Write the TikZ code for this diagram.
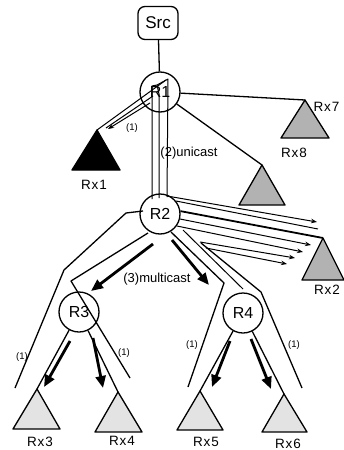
\documentclass[tikz,border=0pt]{standalone}
\usepackage{fontspec}
\setmainfont{Liberation Sans}
\usetikzlibrary{arrows.meta}
\begin{document}
\begin{tikzpicture}[x=1pt,y=-1pt,line width=1.3pt,line join=round,
  router/.style={circle,draw,minimum size=40pt,inner sep=0pt,font=\fontsize{16}{16}\selectfont},
  srcbox/.style={draw,rounded corners=7pt,minimum width=40pt,minimum height=33pt,inner sep=0pt,font=\fontsize{17}{17}\selectfont},
  rxlabel/.style={font=\fontsize{13.5}{13.5}\selectfont\addfontfeature{LetterSpace=6},inner sep=0pt},
  steplabel/.style={font=\fontsize{13}{13}\selectfont,inner sep=0pt},
  onelabel/.style={font=\fontsize{9.5}{9.5}\selectfont,inner sep=0pt},
  darktri/.style={draw,fill=gray!60},
  blacktri/.style={draw,fill=black},
  lighttri/.style={draw,fill=gray!22},
  bigarrow/.style={line width=2.8pt,-{Triangle[length=12pt,width=10pt]}},
  thinarrow/.style={line width=1pt,-{Stealth[length=6pt,width=4.5pt]}},
  thinline/.style={line width=1pt}]
\useasboundingbox (0,0) rectangle (343,450);

% nodes
\node[srcbox] (Src) at (158,23) {Src};
\node[router] (R1) at (160,92) {R1};
\node[router] (R2) at (160,214) {R2};
\node[router] (R3) at (79,312) {R3};
\node[router] (R4) at (243,313) {R4};

% receiver apexes
\coordinate (a1) at (97,130);
\coordinate (a7) at (305,100);
\coordinate (a8) at (262,165);
\coordinate (a2) at (323,238);
\coordinate (a3) at (37,389);
\coordinate (a4) at (118,392);
\coordinate (a5) at (200,391);
\coordinate (a6) at (284,394);

% triangles
\draw[blacktri] (a1) -- ++(-25,40) -- ++(48,0) -- cycle;
\draw[darktri] (a7) -- ++(-24,38) -- ++(48,0) -- cycle;
\draw[darktri] (a8) -- ++(-23,40) -- ++(46,0) -- cycle;
\draw[darktri] (a2) -- ++(-21,42) -- ++(42,0) -- cycle;
\draw[lighttri] (a3) -- ++(-24,40) -- ++(47,0) -- cycle;
\draw[lighttri] (a4) -- ++(-23,40) -- ++(47,0) -- cycle;
\draw[lighttri] (a5) -- ++(-23,39) -- ++(46,0) -- cycle;
\draw[lighttri] (a6) -- ++(-22,38) -- ++(45,0) -- cycle;

% labels
\node[rxlabel] (l1) at (94,185) {Rx1};
\node[rxlabel,anchor=west] (l7) at (313,107) {Rx7};
\node[rxlabel] (l8) at (294,153) {Rx8};
\node[rxlabel] (l2) at (327,290) {Rx2};
\node[rxlabel] (l3) at (40,442) {Rx3};
\node[rxlabel] (l4) at (122,441) {Rx4};
\node[rxlabel] (l5) at (206,442) {Rx5};
\node[rxlabel] (l6) at (288,444) {Rx6};

% Src to R1, R1 to Rx7 / Rx8
\draw (Src) -- (R1);
\draw (R1) -- (a7);
\draw (R1) -- (a8);

% tube R1 -> Rx1
\coordinate (p1) at (166,80);
\coordinate (p2) at (153,96);
\coordinate (p3) at (106,128);
\coordinate (p4) at (150,103);
\coordinate (p5) at (108,129);
\draw[thinline] (p1) -- (a1);
\draw[thinline] (p2) -- (p3);
\draw[thinarrow] (p4) -- (p5);
\node[onelabel] (one1) at (132,128) {(1)};

% tube R1 -> R2 (vertical)
\coordinate (v1) at (152,199);
\coordinate (v2) at (152,86);
\coordinate (v3) at (157,85);
\coordinate (v4) at (168,79);
\coordinate (v5) at (167,197);
\coordinate (v6) at (159,198);
\coordinate (v7) at (159,94);
\draw[thinline] (v1) -- (v2) -- (v3) -- (v4) -- (v5);
\draw[thinline] (v6) -- (v7) -- (v3);
\node[steplabel] (uni) at (189,153) {(2)unicast};

% bundle R2 -> right
\coordinate (b1s) at (167,196);
\coordinate (b1e) at (317,222);
\coordinate (b2s) at (176,201);
\coordinate (b2e) at (318,229);
\coordinate (b4s) at (180,219);
\coordinate (b4e) at (311,245);
\coordinate (b5s) at (177,226);
\coordinate (b5e) at (303,252);
\coordinate (b6s) at (200,242);
\coordinate (b6e) at (295,258);
\coordinate (b7s) at (206,248);
\coordinate (b7e) at (287,264);
\draw[thinarrow] (b1s) -- (b1e);
\draw[thinline] (b2s) -- (b2e);
\draw[line width=1.8pt] (R2.8) -- (a2);
\draw[thinarrow] (b4s) -- (b4e);
\draw[thinarrow] (b5s) -- (b5e);
\draw[thinarrow] (b6s) -- (b6e);
\draw[thinarrow] (b7s) -- (b7e);

% left tube R2 -> R3
\coordinate (q0) at (143,211);
\coordinate (q1) at (126,213);
\coordinate (q2) at (64,270);
\coordinate (q3) at (15,388);
\coordinate (q4) at (148,233);
\coordinate (q5) at (71,281);
\coordinate (q6) at (130,378);
\draw (q0) -- (q1) -- (q2) -- (q3);
\draw (q4) -- (q5) -- (q6);

% right tube R2 -> R4
\coordinate (s1) at (171,232);
\coordinate (s2) at (224,283);
\coordinate (s3) at (188,387);
\coordinate (s4) at (183,230);
\coordinate (s5) at (243,289);
\coordinate (s6) at (201,243);
\coordinate (s7) at (261,292);
\coordinate (s8) at (302,388);
\draw (s1) -- (s2) -- (s3);
\draw[thinline] (s4) -- (s5);
\draw (s6) -- (s7) -- (s8);

% multicast arrows from R2
\coordinate (m1s) at (153,244);
\coordinate (m1e) at (91,291);
\coordinate (m2s) at (172,240);
\coordinate (m2e) at (209,285);
\draw[bigarrow] (m1s) -- (m1e);
\draw[bigarrow] (m2s) -- (m2e);
\node[steplabel] (multi) at (157,279) {(3)multicast};

% R3, R4 to receivers
\draw (R3) -- (a3);
\draw (R3) -- (a4);
\draw (R4) -- (a5);
\draw (R4) -- (a6);

% thick arrows down
\coordinate (d1s) at (70,341);
\coordinate (d1e) at (44,387);
\coordinate (d2s) at (93,338);
\coordinate (d2e) at (103,388);
\coordinate (d3s) at (230,341);
\coordinate (d3e) at (212,387);
\coordinate (d4s) at (251,339);
\coordinate (d4e) at (271,389);
\draw[bigarrow] (d1s) -- (d1e);
\draw[bigarrow] (d2s) -- (d2e);
\draw[bigarrow] (d3s) -- (d3e);
\draw[bigarrow] (d4s) -- (d4e);

% (1) labels
\node[onelabel] (one3) at (22,357) {(1)};
\node[onelabel] (one4) at (124,353) {(1)};
\node[onelabel] (one5) at (192,345) {(1)};
\node[onelabel] (one6) at (294,345) {(1)};
\end{tikzpicture}
\end{document}
